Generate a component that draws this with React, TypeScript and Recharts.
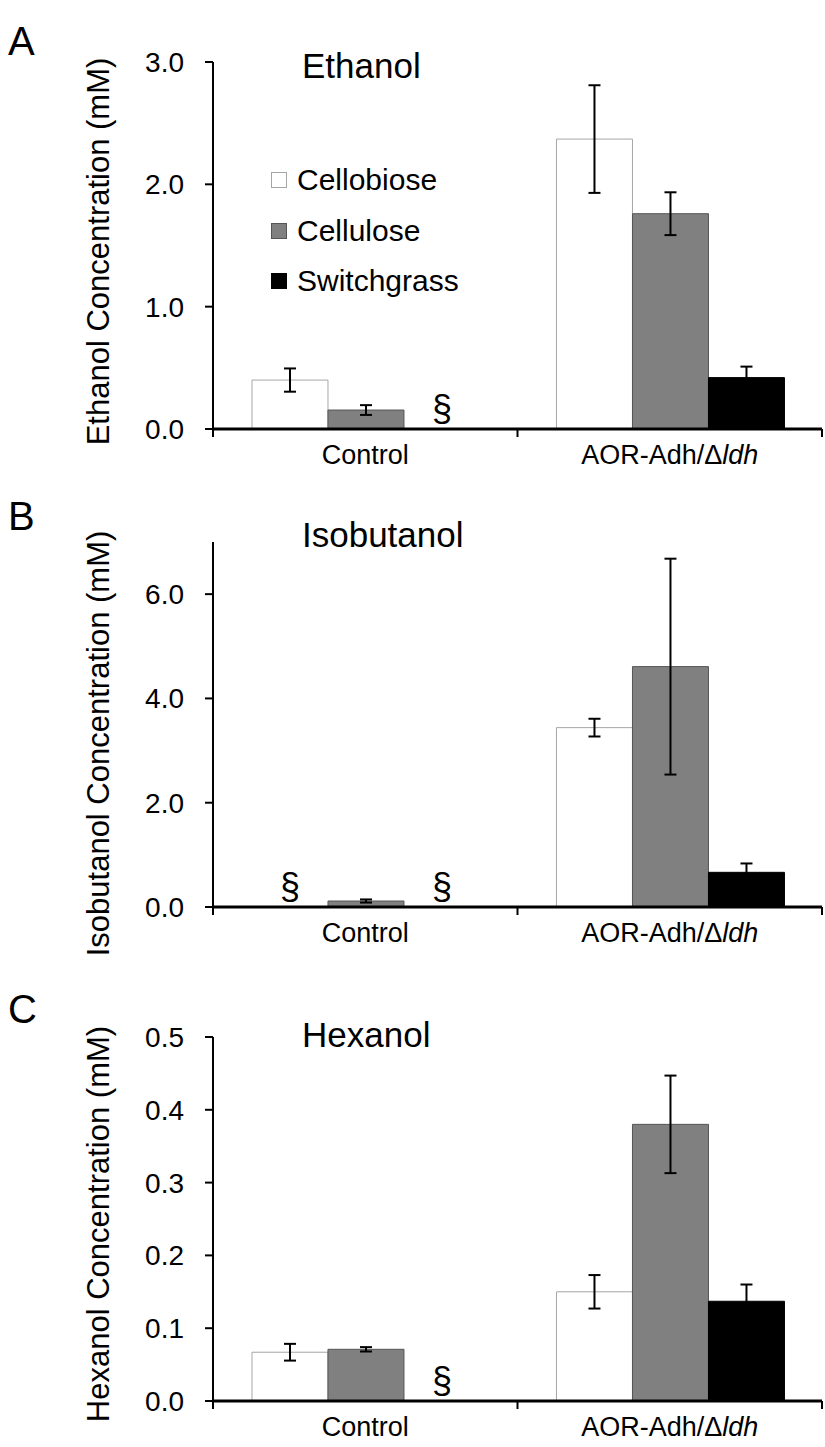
import React from "react";
import { BarChart, Bar, XAxis, YAxis, ErrorBar, Legend, Label, Rectangle } from "recharts";

const FONT = "'Liberation Sans', Arial, Helvetica, sans-serif";

// ---------- data ----------
const categories = ["Control", "AOR-Adh/Δldh"];
const seriesNames = ["Cellobiose", "Cellulose", "Switchgrass"];
const seriesFills = ["#ffffff", "#808080", "#000000"];
const seriesStrokes = ["#a6a6a6", "#555555", "#000000"];
const notDetectedMark = "§";

// Ethanol (mM); null = not detected
const ethanolCellobiose = [0.4, 2.37];
const ethanolCellobioseErr = [0.095, 0.44];
const ethanolCellulose = [0.155, 1.76];
const ethanolCelluloseErr = [0.04, 0.175];
const ethanolSwitchgrass = [null, 0.42];
const ethanolSwitchgrassErr = [0, 0.09];

// Isobutanol (mM)
const isobutanolCellobiose = [null, 3.44];
const isobutanolCellobioseErr = [0, 0.17];
const isobutanolCellulose = [0.115, 4.61];
const isobutanolCelluloseErr = [0.03, 2.07];
const isobutanolSwitchgrass = [null, 0.665];
const isobutanolSwitchgrassErr = [0, 0.17];

// Hexanol (mM)
const hexanolCellobiose = [0.067, 0.15];
const hexanolCellobioseErr = [0.0115, 0.023];
const hexanolCellulose = [0.071, 0.38];
const hexanolCelluloseErr = [0.003, 0.067];
const hexanolSwitchgrass = [null, 0.137];
const hexanolSwitchgrassErr = [0, 0.023];

// y-axis ticks
const ethanolTicks = [0, 1, 2, 3];
const isobutanolTicks = [0, 2, 4, 6];
const hexanolTicks = [0, 0.1, 0.2, 0.3, 0.4, 0.5];

function makeRows(values: (number | null)[][], errors: number[][]) {
  return categories.map((category, i) => {
    const row: any = { category };
    values.forEach((vals, s) => {
      const v = vals[i];
      row[`v${s}`] = v === null ? 0 : v;
      row[`e${s}`] = errors[s][i];
      row[`m${s}`] = v === null ? notDetectedMark : "";
    });
    return row;
  });
}

const ethanolRows = makeRows(
  [ethanolCellobiose, ethanolCellulose, ethanolSwitchgrass],
  [ethanolCellobioseErr, ethanolCelluloseErr, ethanolSwitchgrassErr]
);
const isobutanolRows = makeRows(
  [isobutanolCellobiose, isobutanolCellulose, isobutanolSwitchgrass],
  [isobutanolCellobioseErr, isobutanolCelluloseErr, isobutanolSwitchgrassErr]
);
const hexanolRows = makeRows(
  [hexanolCellobiose, hexanolCellulose, hexanolSwitchgrass],
  [hexanolCellobioseErr, hexanolCelluloseErr, hexanolSwitchgrassErr]
);

// ---------- layout ----------
const CHART_W = 825;
const Y_AXIS_W = 213;
const RIGHT_M = 3;
const PLOT_W = CHART_W - Y_AXIS_W - RIGHT_M;

function CategoryTick(props: any) {
  const { x, y, payload, index, visibleTicksCount } = props;
  const w = typeof props.width === "number" && props.width > 0 ? props.width : PLOT_W;
  const half = w / (visibleTicksCount || categories.length) / 2;
  const label = String(payload.value);
  const d = label.indexOf("Δ");
  return (
    <g>
      {index === 0 && (
        <line x1={x - half} x2={x - half} y1={y} y2={y + 8} stroke="#000" strokeWidth={2} />
      )}
      <line x1={x + half} x2={x + half} y1={y} y2={y + 8} stroke="#000" strokeWidth={2} />
      <text x={x} y={y + 35} textAnchor="middle" fontSize={27} fontFamily={FONT} fill="#000">
        {d >= 0 ? (
          <>
            <tspan>{label.slice(0, d + 1)}</tspan>
            <tspan fontStyle="italic">{label.slice(d + 1)}</tspan>
          </>
        ) : (
          label
        )}
      </text>
    </g>
  );
}

function LegendContent(props: any) {
  const payload = props.payload || [];
  return (
    <div style={{ fontFamily: FONT, fontSize: 30, color: "#000", lineHeight: "30px" }}>
      {payload.map((e: any) => {
        const s = seriesNames.indexOf(e.value);
        return (
          <div key={e.value} style={{ display: "flex", alignItems: "center", height: 50.5 }}>
            <span
              style={{
                display: "inline-block",
                width: 16,
                height: 16,
                boxSizing: "border-box",
                background: seriesFills[s],
                border: `1px solid ${seriesStrokes[s]}`,
                marginRight: 10,
              }}
            />
            <span>{e.value}</span>
          </div>
        );
      })}
    </div>
  );
}

function makeBarShape(s: number) {
  return (p: any) => {
    const mark = p.payload ? p.payload[`m${s}`] : "";
    return (
      <g>
        {p.height > 0 ? (
          <Rectangle
            x={p.x}
            y={p.y}
            width={p.width}
            height={p.height}
            fill={seriesFills[s]}
            stroke={seriesStrokes[s]}
            strokeWidth={1}
          />
        ) : null}
        {mark ? (
          <text
            x={p.x + p.width / 2}
            y={p.y + p.height - 8}
            textAnchor="middle"
            fontSize={36}
            fontFamily={FONT}
            fill="#000"
          >
            {mark}
          </text>
        ) : null}
      </g>
    );
  };
}

type PanelProps = {
  top: number;
  height: number;
  marginTop: number;
  xAxisHeight: number;
  domain: [number, number];
  ticks: number[];
  rows: any[];
  yTitle: string;
  titleShift: number;
  legend?: boolean;
};

function Panel({ top, height, marginTop, xAxisHeight, domain, ticks, rows, yTitle, titleShift, legend }: PanelProps) {
  return (
    <div style={{ position: "absolute", left: 0, top }}>
      <BarChart
        width={CHART_W}
        height={height}
        data={rows}
        margin={{ top: marginTop, right: RIGHT_M, left: 0, bottom: 0 }}
        barCategoryGap="12.8%"
        barGap={0}
      >
        <XAxis
          dataKey="category"
          height={xAxisHeight}
          interval={0}
          tickLine={false}
          tickSize={0}
          tickMargin={0}
          axisLine={{ stroke: "#000", strokeWidth: 3 }}
          tick={<CategoryTick />}
        />
        <YAxis
          type="number"
          width={Y_AXIS_W}
          domain={domain}
          ticks={ticks}
          interval={0}
          tickSize={8}
          tickMargin={21}
          tickFormatter={(v: number) => v.toFixed(1)}
          axisLine={{ stroke: "#000", strokeWidth: 2 }}
          tickLine={{ stroke: "#000", strokeWidth: 2 }}
          tick={{ fill: "#000", fontSize: 28, fontFamily: FONT }}
        >
          <Label
            value={yTitle}
            content={(p: any) => {
              const vb = p.viewBox || { y: 0, height: 0 };
              const cy = vb.y + vb.height / 2 + titleShift;
              return (
                <text
                  x={98}
                  y={cy}
                  transform={`rotate(-90 98 ${cy})`}
                  textAnchor="middle"
                  dominantBaseline="central"
                  fontSize={31}
                  fontFamily={FONT}
                  fill="#000"
                >
                  {yTitle}
                </text>
              );
            }}
          />
        </YAxis>
        {legend && (
          <Legend
            layout="vertical"
            align="center"
            verticalAlign="middle"
            wrapperStyle={{ left: 271, top: 155, width: 230 }}
            content={<LegendContent />}
          />
        )}
        {seriesNames.map((name, s) => (
          <Bar
            key={name}
            dataKey={`v${s}`}
            name={name}
            fill={seriesFills[s]}
            stroke={seriesStrokes[s]}
            strokeWidth={1}
            isAnimationActive={false}
            shape={makeBarShape(s)}
          >
            <ErrorBar dataKey={`e${s}`} width={6} strokeWidth={2} stroke="#000" isAnimationActive={false} />
          </Bar>
        ))}
      </BarChart>
    </div>
  );
}

export default function App() {
  return (
    <div style={{ position: "absolute", left: 0, top: 0, width: 825, height: 1447, background: "#fff" }}>
      <Panel
        top={0}
        height={480}
        marginTop={62}
        xAxisHeight={51}
        domain={[0, 3]}
        ticks={ethanolTicks}
        rows={ethanolRows}
        yTitle="Ethanol Concentration (mM)"
        titleShift={6}
        legend
      />
      <Panel
        top={480}
        height={480}
        marginTop={62}
        xAxisHeight={53}
        domain={[0, 7]}
        ticks={isobutanolTicks}
        rows={isobutanolRows}
        yTitle="Isobutanol Concentration (mM)"
        titleShift={19}
      />
      <Panel
        top={960}
        height={487}
        marginTop={77}
        xAxisHeight={46}
        domain={[0, 0.5]}
        ticks={hexanolTicks}
        rows={hexanolRows}
        yTitle="Hexanol Concentration (mM)"
        titleShift={5}
      />
      <svg
        width={825}
        height={1447}
        style={{ position: "absolute", left: 0, top: 0, pointerEvents: "none" }}
      >
        <g fontFamily={FONT} fill="#000">
          <text x={8} y={55} fontSize={40}>A</text>
          <text x={8} y={530} fontSize={40}>B</text>
          <text x={8} y={1023} fontSize={40}>C</text>
          <text x={302} y={78} fontSize={35}>Ethanol</text>
          <text x={302} y={547} fontSize={35}>Isobutanol</text>
          <text x={302} y={1047} fontSize={35}>Hexanol</text>
        </g>
      </svg>
    </div>
  );
}
